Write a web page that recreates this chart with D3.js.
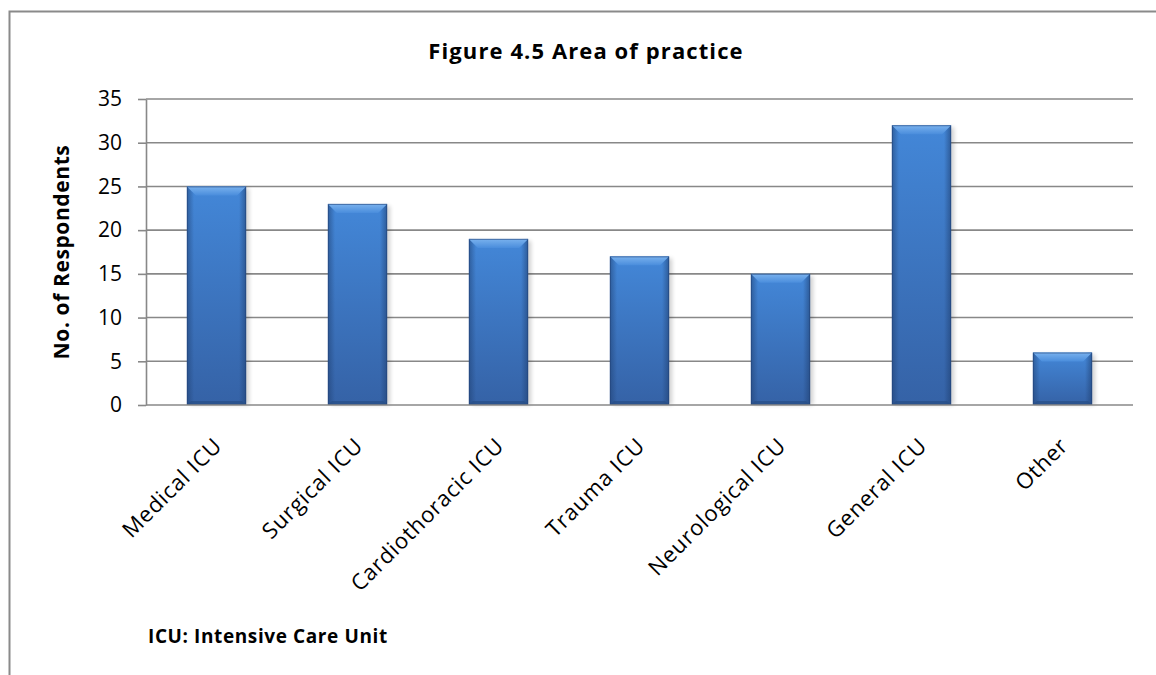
<!DOCTYPE html>
<html>
<head>
<meta charset="utf-8">
<script src="https://cdn.jsdelivr.net/npm/d3@7"></script>
<style>
  html, body { margin: 0; padding: 0; background: #fff; }
  svg { display: block; font-family: "Open Sans", "Liberation Sans", sans-serif; }
</style>
</head>
<body>
<svg id="chart" width="1156" height="675"></svg>
<script>
// Respondents by area of practice
const categories = ["Medical ICU", "Surgical ICU", "Cardiothoracic ICU", "Trauma ICU", "Neurological ICU", "General ICU", "Other"];
const respondents = [25, 23, 19, 17, 15, 32, 6];
const yTicks = [0, 5, 10, 15, 20, 25, 30, 35];

const svg = d3.select("#chart");
const plot = { left: 146, right: 1133, top: 99, bottom: 405 };

// Outer chart frame (runs past the right and bottom edges)
svg.append("rect")
  .attr("x", 9.5).attr("y", 11.5)
  .attr("width", 1300).attr("height", 800)
  .attr("fill", "none").attr("stroke", "#8a8a8a").attr("stroke-width", 2);

const x = d3.scaleBand().domain(categories).range([plot.left, plot.right]).paddingInner(0.58).paddingOuter(0.29);
const y = d3.scaleLinear().domain([0, 35]).range([plot.bottom, plot.top]);

// Gradients for the bevelled bars
const defs = svg.append("defs");
const vg = defs.append("linearGradient").attr("id", "barFace").attr("x1", 0).attr("y1", 0).attr("x2", 0).attr("y2", 1);
vg.append("stop").attr("offset", 0).attr("stop-color", "#4387d8");
vg.append("stop").attr("offset", 1).attr("stop-color", "#3562a6");
const hg = defs.append("linearGradient").attr("id", "barSide").attr("x1", 0).attr("y1", 0).attr("x2", 1).attr("y2", 0);
hg.append("stop").attr("offset", 0).attr("stop-color", "#1f3f70").attr("stop-opacity", 0.55);
hg.append("stop").attr("offset", 0.12).attr("stop-color", "#1f3f70").attr("stop-opacity", 0);
hg.append("stop").attr("offset", 0.88).attr("stop-color", "#1f3f70").attr("stop-opacity", 0);
hg.append("stop").attr("offset", 1).attr("stop-color", "#1f3f70").attr("stop-opacity", 0.6);
const tg = defs.append("linearGradient").attr("id", "barTop").attr("x1", 0).attr("y1", 0).attr("x2", 0).attr("y2", 1);
tg.append("stop").attr("offset", 0).attr("stop-color", "#7ab2ee");
tg.append("stop").attr("offset", 1).attr("stop-color", "#4a8ddc");
const sh = defs.append("filter").attr("id", "shadow").attr("x", "-20%").attr("y", "-10%").attr("width", "140%").attr("height", "120%");
sh.append("feGaussianBlur").attr("stdDeviation", 2);

// Gridlines
svg.append("g").selectAll("line")
  .data(yTicks.filter(d => d > 0))
  .join("line")
  .attr("x1", plot.left).attr("x2", plot.right)
  .attr("y1", d => y(d)).attr("y2", d => y(d))
  .attr("stroke", "#888").attr("stroke-width", 1.6);

// Y axis
const yAxis = svg.append("g")
  .attr("transform", `translate(${plot.left},0)`)
  .call(d3.axisLeft(y).tickValues(yTicks).tickSize(8).tickPadding(16).tickSizeOuter(0));
yAxis.select(".domain").attr("stroke", "#888").attr("stroke-width", 1.6);
yAxis.selectAll(".tick line").attr("stroke", "#888").attr("stroke-width", 1.6);
yAxis.selectAll(".tick text").attr("font-size", 21).attr("fill", "#000")
  .attr("font-family", "'Open Sans', sans-serif");

// Bars
const bars = svg.append("g").selectAll("g.bar")
  .data(categories.map((c, i) => ({ c, v: respondents[i] })))
  .join("g").attr("class", "bar");

bars.append("rect")
  .attr("x", d => x(d.c) + 3).attr("y", d => y(d.v) + 2)
  .attr("width", x.bandwidth()).attr("height", d => y(0) - y(d.v) - 2)
  .attr("fill", "#000").attr("opacity", 0.18).attr("filter", "url(#shadow)");
bars.append("rect")
  .attr("x", d => x(d.c)).attr("y", d => y(d.v))
  .attr("width", x.bandwidth()).attr("height", d => y(0) - y(d.v))
  .attr("fill", "url(#barFace)");
bars.append("rect")
  .attr("x", d => x(d.c)).attr("y", d => y(d.v))
  .attr("width", x.bandwidth()).attr("height", d => y(0) - y(d.v))
  .attr("fill", "url(#barSide)");
// top bevel
bars.append("path")
  .attr("d", d => {
    const x0 = x(d.c), x1 = x0 + x.bandwidth(), t = y(d.v), b = 9;
    return `M${x0},${t}L${x1},${t}L${x1 - b},${t + b}L${x0 + b},${t + b}Z`;
  })
  .attr("fill", "url(#barTop)");
// bottom bevel
bars.append("path")
  .attr("d", d => {
    const x0 = x(d.c), x1 = x0 + x.bandwidth(), bt = y(0), b = 4;
    return `M${x0},${bt}L${x1},${bt}L${x1 - b},${bt - b}L${x0 + b},${bt - b}Z`;
  })
  .attr("fill", "#264d85").attr("opacity", 0.7);
bars.append("rect")
  .attr("x", d => x(d.c) + 0.5).attr("y", d => y(d.v) + 0.5)
  .attr("width", x.bandwidth() - 1).attr("height", d => y(0) - y(d.v) - 1)
  .attr("fill", "none").attr("stroke", "#23457a").attr("stroke-opacity", 0.6).attr("stroke-width", 1);

// Baseline
svg.append("line")
  .attr("x1", plot.left).attr("x2", plot.right)
  .attr("y1", y(0)).attr("y2", y(0))
  .attr("stroke", "#888").attr("stroke-width", 1.6);

// Category labels
svg.append("g").selectAll("text")
  .data(categories)
  .join("text")
  .attr("transform", d => `translate(${x(d) + x.bandwidth() / 2 + 7},${plot.bottom + 42}) rotate(-45)`)
  .attr("text-anchor", "end")
  .attr("font-size", 22)
  .attr("letter-spacing", 0.8)
  .attr("fill", "#000")
  .text(d => d);

// Title
svg.append("text")
  .attr("x", 586).attr("y", 59)
  .attr("text-anchor", "middle")
  .attr("font-size", 22).attr("font-weight", "bold")
  .attr("letter-spacing", 1.1)
  .text("Figure 4.5 Area of practice");

// Y axis title
svg.append("text")
  .attr("transform", `translate(69,${(plot.top + plot.bottom) / 2}) rotate(-90)`)
  .attr("text-anchor", "middle")
  .attr("font-size", 21).attr("font-weight", "bold")
  .attr("letter-spacing", 0.6)
  .text("No. of Respondents");

// Footnote
svg.append("text")
  .attr("x", 148).attr("y", 643)
  .attr("font-size", 19).attr("font-weight", "bold")
  .attr("letter-spacing", 0.6)
  .text("ICU: Intensive Care Unit");
</script>
</body>
</html>
